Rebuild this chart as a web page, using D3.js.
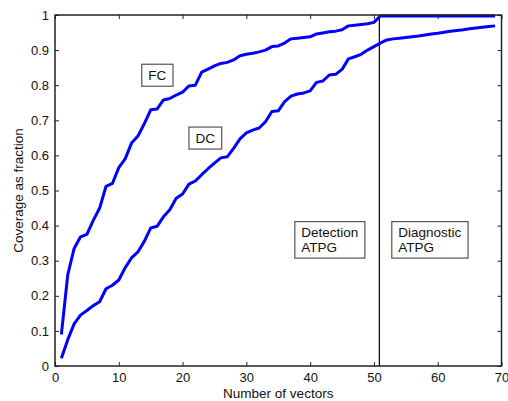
<!DOCTYPE html>
<html>
<head>
<meta charset="utf-8">
<script src="https://cdn.jsdelivr.net/npm/d3@7"></script>
<style>
  body { margin: 0; background: #fff; }
  svg { display: block; font-family: Arial, "Liberation Sans", sans-serif; }
</style>
</head>
<body>
<svg id="chart" width="508" height="401"></svg>
<script>
// number of vectors, 1..69
var vectors = d3.range(1, 70);

// fault coverage (FC)
var fcValues = [
	0.09, 0.26, 0.335, 0.368, 0.375, 0.415, 0.45, 0.512, 0.52, 0.565,
	0.59, 0.635, 0.655, 0.69, 0.73, 0.732, 0.758, 0.762, 0.772, 0.78,
	0.798, 0.8, 0.837, 0.846, 0.855, 0.862, 0.865, 0.872, 0.884, 0.888,
	0.891, 0.895, 0.9, 0.91, 0.912, 0.92, 0.932, 0.934, 0.936, 0.938,
	0.946, 0.949, 0.952, 0.954, 0.958, 0.969, 0.971, 0.973, 0.975, 0.979,
	0.997, 0.997, 0.997, 0.997, 0.997, 0.997, 0.997, 0.997, 0.997, 0.997,
	0.997, 0.997, 0.997, 0.997, 0.997, 0.997, 0.997, 0.997, 0.997
];

// diagnostic coverage (DC)
var dcValues = [
	0.022, 0.075, 0.12, 0.145, 0.158, 0.172, 0.183, 0.22, 0.23, 0.245,
	0.28, 0.308, 0.325, 0.355, 0.393, 0.398, 0.425, 0.445, 0.478, 0.49,
	0.518, 0.527, 0.545, 0.562, 0.578, 0.593, 0.596, 0.62, 0.647, 0.664,
	0.672, 0.678, 0.696, 0.725, 0.727, 0.753, 0.769, 0.775, 0.778, 0.784,
	0.808, 0.812, 0.829, 0.831, 0.845, 0.875, 0.881, 0.888, 0.9, 0.91,
	0.92, 0.929, 0.932, 0.934, 0.936, 0.938, 0.94, 0.943, 0.946, 0.948,
	0.951, 0.954, 0.956, 0.958, 0.961, 0.963, 0.965, 0.967, 0.969
];

var xTicks = [0, 10, 20, 30, 40, 50, 60, 70];
var yTicks = [0, 0.1, 0.2, 0.3, 0.4, 0.5, 0.6, 0.7, 0.8, 0.9, 1];
var switchPoint = 50.85; // detection -> diagnostic ATPG

// boxed annotations (left edge, vertical center, in data units)
var notes = [
	{ lines: ['FC'], x: 13.6, y: 0.829 },
	{ lines: ['DC'], x: 21.0, y: 0.65 },
	{ lines: ['Detection', 'ATPG'], x: 37.6, y: 0.36 },
	{ lines: ['Diagnostic', 'ATPG'], x: 52.8, y: 0.36 }
];

var svg = d3.select('#chart');
var plotLeft = 55, plotRight = 501.5, plotTop = 15, plotBottom = 366;

var x = d3.scaleLinear().domain([0, 70]).range([plotLeft, plotRight]);
var y = d3.scaleLinear().domain([0, 1]).range([plotBottom, plotTop]);

var axisColor = '#222';
var tickFont = '13px';
var labelFont = '13.5px';

// ticks (inward, on all four sides)
var g = svg.append('g');
g.append('g').attr('transform', 'translate(0,' + plotBottom + ')')
	.call(d3.axisBottom(x).tickValues(xTicks).tickSize(-4).tickPadding(7).tickFormat(d3.format('d')));
g.append('g').attr('transform', 'translate(0,' + plotTop + ')')
	.call(d3.axisTop(x).tickValues(xTicks).tickSize(-4).tickFormat(''));
g.append('g').attr('transform', 'translate(' + plotLeft + ',0)')
	.call(d3.axisLeft(y).tickValues(yTicks).tickSize(-4).tickPadding(6).tickFormat(function(d) { return d === 0 || d === 1 ? d3.format('d')(d) : d3.format('.1f')(d); }));
g.append('g').attr('transform', 'translate(' + plotRight + ',0)')
	.call(d3.axisRight(y).tickValues(yTicks).tickSize(-4).tickFormat(''));
g.selectAll('.domain').remove();
g.selectAll('.tick line').attr('stroke', axisColor);
g.selectAll('.tick text').attr('fill', '#111').style('font-size', tickFont).style('font-family', 'Arial, "Liberation Sans", sans-serif');

// detection / diagnostic divider
svg.append('line')
	.attr('x1', x(switchPoint)).attr('x2', x(switchPoint))
	.attr('y1', plotTop).attr('y2', plotBottom)
	.attr('stroke', '#000').attr('stroke-width', 1.2);

// curves
var line = d3.line()
	.x(function(d) { return x(d[0]); })
	.y(function(d) { return y(d[1]); });

[fcValues, dcValues].forEach(function(vals) {
	svg.append('path')
		.datum(vectors.map(function(v, i) { return [v, vals[i]]; }))
		.attr('d', line)
		.attr('fill', 'none')
		.attr('stroke', '#0000ff')
		.attr('stroke-width', 3)
		.attr('stroke-linejoin', 'round');
});

// plot box
svg.append('rect')
	.attr('x', plotLeft).attr('y', plotTop)
	.attr('width', plotRight - plotLeft).attr('height', plotBottom - plotTop)
	.attr('fill', 'none').attr('stroke', axisColor).attr('stroke-width', 1.5);

// annotation boxes
notes.forEach(function(n) {
	var ng = svg.append('g');
	var lineH = 14.5;
	var tx = x(n.x) + 6.5;
	var txt = ng.append('text')
		.attr('y', y(n.y) - (n.lines.length - 1) * lineH / 2)
		.style('font-size', labelFont)
		.attr('fill', '#111');
	n.lines.forEach(function(t, i) {
		txt.append('tspan').attr('x', tx).attr('dy', i === 0 ? '0.35em' : lineH).text(t);
	});
	var bb = txt.node().getBBox();
	ng.insert('rect', 'text')
		.attr('x', x(n.x)).attr('y', bb.y - 3.5)
		.attr('width', bb.width + 13).attr('height', bb.height + 7)
		.attr('fill', '#fff').attr('stroke', '#555').attr('stroke-width', 1.2);
});

// axis titles
svg.append('text')
	.attr('x', (plotLeft + plotRight) / 2).attr('y', 398)
	.attr('text-anchor', 'middle')
	.style('font-size', labelFont).attr('fill', '#111')
	.text('Number of vectors');
svg.append('text')
	.attr('transform', 'translate(23,' + ((plotTop + plotBottom) / 2) + ') rotate(-90)')
	.attr('text-anchor', 'middle')
	.style('font-size', labelFont).attr('fill', '#111')
	.text('Coverage as fraction');
</script>
</body>
</html>
